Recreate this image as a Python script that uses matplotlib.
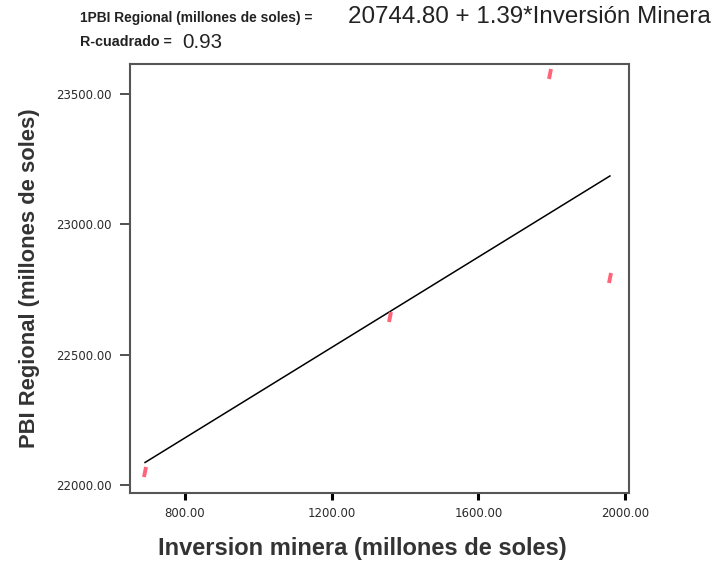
import numpy as np
import matplotlib
matplotlib.use("Agg")
import matplotlib.pyplot as plt
from matplotlib.markers import MarkerStyle
from matplotlib.transforms import Affine2D

# Data
inversion = [691, 1359, 1795, 1959]
pbi = [22051, 22645, 23577, 22793]
fit_slope = 0.867        # fitted line as drawn in the reference
fit_intercept = 21487
x_ticks = [800, 1200, 1600, 2000]
y_ticks = [22000, 22500, 23000, 23500]
eq_prefix = "1PBI Regional (millones de soles) = "
eq_text = "20744.80 + 1.39*Inversión Minera"
r2_prefix = "R-cuadrado = "
r2_text = "0.93"
xlabel = "Inversion minera (millones de soles)"
ylabel = "PBI Regional (millones de soles)"

plt.rcParams['font.family'] = ['Liberation Sans', 'DejaVu Sans']

W, H = 717, 565
fig = plt.figure(figsize=(W / 100, H / 100), dpi=100)
ax = fig.add_axes([130 / W, 1 - 493 / H, 499 / W, 429 / H])

mk = MarkerStyle("|", transform=Affine2D().rotate_deg(-12))
ax.plot(inversion, pbi, linestyle="none", marker=mk, markersize=7,
        markeredgewidth=2.8, color="#ff6478", zorder=3)

xs = np.array([min(inversion), max(inversion)])
ax.plot(xs, fit_intercept + fit_slope * xs, color="black", linewidth=1.1, zorder=2)

ax.set_xlim(650, 2011)
ax.set_ylim(21969, 23615)
ax.set_xticks(x_ticks)
ax.set_yticks(y_ticks)
ax.set_xticklabels([f"{v:.2f}" for v in x_ticks], fontfamily="DejaVu Sans",
                   fontsize=8.5, color="#2a2a2a")
ax.set_yticklabels([f"{v:.2f}" for v in y_ticks], fontfamily="DejaVu Sans",
                   fontsize=8.5, color="#2a2a2a")
ax.tick_params(axis="x", direction="out", length=5, width=2.2, pad=5, color="black")
ax.tick_params(axis="y", direction="out", length=7, width=1.2, pad=6, color="#333333")
for s in ax.spines.values():
    s.set_color("#555555")
    s.set_linewidth(1.5)

renderer = fig.canvas.get_renderer()


def fitted_text(xp, yp, s, width_px, size0, along="width", **kw):
    t = fig.text(xp / W, 1 - yp / H, s, fontsize=size0, **kw)
    bb = t.get_window_extent(renderer)
    cur = bb.width if along == "width" else bb.height
    t.set_fontsize(size0 * width_px / cur)
    return t


fitted_text(362, 549, xlabel, 410, 14, ha="center", va="center",
            fontweight="bold", color="#333333")
fitted_text(30, 278, ylabel, 340, 14, along="height", ha="center", va="center",
            rotation=90, fontweight="bold", color="#333333")

fitted_text(80, 18, eq_prefix, 237, 8.5, ha="left", va="center",
            fontweight="bold", color="#222222")
fitted_text(348, 17, eq_text, 364, 17, ha="left", va="center", color="#222222")
fitted_text(80, 42, r2_prefix, 96, 8.5, ha="left", va="center",
            fontweight="bold", color="#222222")
fitted_text(182, 42, r2_text, 40, 14, ha="left", va="center", color="#222222")

fig.savefig("out.png", dpi=100)
